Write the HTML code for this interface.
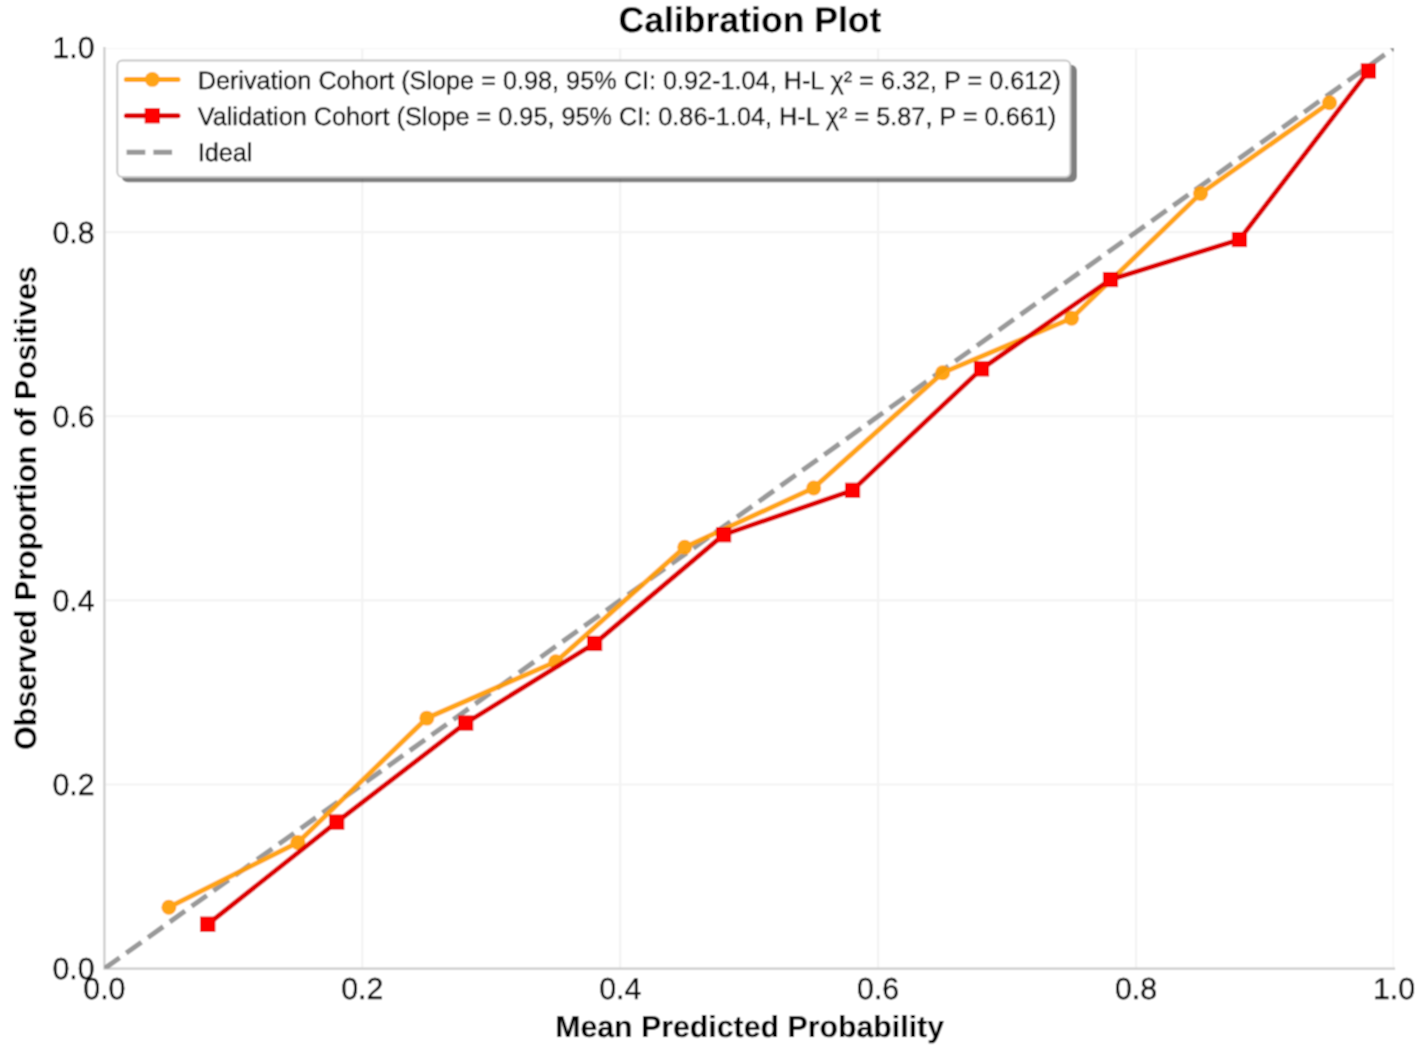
<!DOCTYPE html><html><head><meta charset="utf-8"><style>html,body{margin:0;padding:0;background:#fff;overflow:hidden;}svg{display:block;}text{font-family:'Liberation Sans', sans-serif;fill:#000000;text-rendering:geometricPrecision;stroke:#000;stroke-width:0.35px;stroke-linejoin:round;} text.b{stroke-width:0.1px;}</style></head><body>
<svg width="1417" height="1047" viewBox="0 0 1417 1047">
<defs><filter id="bl" x="0" y="0" width="1417" height="1047" filterUnits="userSpaceOnUse"><feConvolveMatrix order="3" kernelMatrix="1 2 1 2 4 2 1 2 1" edgeMode="duplicate" preserveAlpha="false"/></filter></defs><g filter="url(#bl)">
<defs><clipPath id="ax"><rect x="104.40" y="48.00" width="1289.60" height="920.60"/></clipPath></defs>
<rect width="1417" height="1047" fill="#fff"/>
<path clip-path="url(#ax)" d="M362.32 968.60V48.00M104.40 784.48H1394.00M620.24 968.60V48.00M104.40 600.36H1394.00M878.16 968.60V48.00M104.40 416.24H1394.00M1136.08 968.60V48.00M104.40 232.12H1394.00" stroke="#f3f3f3" stroke-width="2.2" fill="none"/>
<path clip-path="url(#ax)" d="M1394.00 968.60V48.00M104.40 48.00H1394.00" stroke="#f6f6f6" stroke-width="2.6" fill="none"/>
<path d="M104.40 48.00V968.60H1394.00" stroke="#cccccc" stroke-width="2.2" stroke-linecap="square" fill="none"/>
<g clip-path="url(#ax)">
<line x1="104.40" y1="968.60" x2="1394.00" y2="48.00" stroke="#808080" stroke-opacity="0.8" stroke-width="5.0" stroke-dasharray="18.7 8.1"/>
<g opacity="0.92"><polyline points="168.88,907.31 297.84,842.50 426.80,718.13 555.76,661.79 684.72,547.17 813.68,487.98 942.64,372.81 1071.60,318.22 1200.56,193.57 1329.52,102.71" stroke="#ff9d00" stroke-width="5.0" fill="none" stroke-linejoin="round" stroke-linecap="round"/>
<circle cx="168.88" cy="907.31" r="7.45" fill="#ff9d00"/>
<circle cx="297.84" cy="842.50" r="7.45" fill="#ff9d00"/>
<circle cx="426.80" cy="718.13" r="7.45" fill="#ff9d00"/>
<circle cx="555.76" cy="661.79" r="7.45" fill="#ff9d00"/>
<circle cx="684.72" cy="547.17" r="7.45" fill="#ff9d00"/>
<circle cx="813.68" cy="487.98" r="7.45" fill="#ff9d00"/>
<circle cx="942.64" cy="372.81" r="7.45" fill="#ff9d00"/>
<circle cx="1071.60" cy="318.22" r="7.45" fill="#ff9d00"/>
<circle cx="1200.56" cy="193.57" r="7.45" fill="#ff9d00"/>
<circle cx="1329.52" cy="102.71" r="7.45" fill="#ff9d00"/>
</g>
<polyline points="207.77,924.17 336.73,822.07 465.69,723.02 594.65,643.48 723.61,534.75 852.57,490.29 981.53,368.86 1110.49,279.56 1239.45,239.52 1368.41,70.95" stroke="#dc0000" stroke-width="5.0" fill="none" stroke-linejoin="round" stroke-linecap="round"/>
<rect x="200.57" y="916.97" width="14.40" height="14.40" fill="#ff0000" stroke="#d40000" stroke-width="0.8"/>
<rect x="329.53" y="814.87" width="14.40" height="14.40" fill="#ff0000" stroke="#d40000" stroke-width="0.8"/>
<rect x="458.49" y="715.82" width="14.40" height="14.40" fill="#ff0000" stroke="#d40000" stroke-width="0.8"/>
<rect x="587.45" y="636.28" width="14.40" height="14.40" fill="#ff0000" stroke="#d40000" stroke-width="0.8"/>
<rect x="716.41" y="527.55" width="14.40" height="14.40" fill="#ff0000" stroke="#d40000" stroke-width="0.8"/>
<rect x="845.37" y="483.09" width="14.40" height="14.40" fill="#ff0000" stroke="#d40000" stroke-width="0.8"/>
<rect x="974.33" y="361.66" width="14.40" height="14.40" fill="#ff0000" stroke="#d40000" stroke-width="0.8"/>
<rect x="1103.29" y="272.36" width="14.40" height="14.40" fill="#ff0000" stroke="#d40000" stroke-width="0.8"/>
<rect x="1232.25" y="232.32" width="14.40" height="14.40" fill="#ff0000" stroke="#d40000" stroke-width="0.8"/>
<rect x="1361.21" y="63.75" width="14.40" height="14.40" fill="#ff0000" stroke="#d40000" stroke-width="0.8"/>
</g>
<rect x="121.70" y="64.80" width="955.20" height="117.50" rx="6" fill="#000" fill-opacity="0.5"/>
<rect x="117.3" y="60.6" width="953.0" height="116.5" rx="5" fill="#fff" stroke="#c8c8c8" stroke-width="2"/>
<g opacity="0.92"><line x1="126.3" y1="79.4" x2="178.0" y2="79.4" stroke="#ff9d00" stroke-width="5.0" stroke-linecap="round"/>
<circle cx="152.3" cy="79.4" r="7.45" fill="#ff9d00"/></g>
<line x1="126.3" y1="115.8" x2="178.0" y2="115.8" stroke="#dc0000" stroke-width="5.0" stroke-linecap="round"/>
<rect x="145.10" y="108.60" width="14.4" height="14.4" fill="#ff0000" stroke="#d40000" stroke-width="0.8"/>
<line x1="126.6" y1="152.3" x2="179.5" y2="152.3" stroke="#808080" stroke-opacity="0.8" stroke-width="5.0" stroke-dasharray="18.7 8.1"/>
<text x="197.7" y="89.0" font-size="25.25" style="fill:#000000">Derivation Cohort (Slope = 0.98, 95% CI: 0.92-1.04, H-L χ² = 6.32, P = 0.612)</text>
<text x="197.7" y="125.1" font-size="25.25" style="fill:#000000">Validation Cohort (Slope = 0.95, 95% CI: 0.86-1.04, H-L χ² = 5.87, P = 0.661)</text>
<text x="197.7" y="160.8" font-size="25.25" style="fill:#000000">Ideal</text>
<text x="94.6" y="979.00" font-size="30.3" text-anchor="end">0.0</text>
<text x="104.40" y="999.2" font-size="30.3" text-anchor="middle">0.0</text>
<text x="94.6" y="794.88" font-size="30.3" text-anchor="end">0.2</text>
<text x="362.32" y="999.2" font-size="30.3" text-anchor="middle">0.2</text>
<text x="94.6" y="610.76" font-size="30.3" text-anchor="end">0.4</text>
<text x="620.24" y="999.2" font-size="30.3" text-anchor="middle">0.4</text>
<text x="94.6" y="426.64" font-size="30.3" text-anchor="end">0.6</text>
<text x="878.16" y="999.2" font-size="30.3" text-anchor="middle">0.6</text>
<text x="94.6" y="242.52" font-size="30.3" text-anchor="end">0.8</text>
<text x="1136.08" y="999.2" font-size="30.3" text-anchor="middle">0.8</text>
<text x="94.6" y="58.40" font-size="30.3" text-anchor="end">1.0</text>
<text x="1394.00" y="999.2" font-size="30.3" text-anchor="middle">1.0</text>
<text x="750" y="32.0" font-size="35.6" font-weight="bold" class="b" text-anchor="middle">Calibration Plot</text>
<text x="749.6" y="1037.2" font-size="30.3" font-weight="bold" class="b" text-anchor="middle">Mean Predicted Probability</text>
<text transform="translate(35.5 508.1) rotate(-90)" font-size="30.45" font-weight="bold" class="b" text-anchor="middle">Observed Proportion of Positives</text>
</g>
</svg></body></html>
